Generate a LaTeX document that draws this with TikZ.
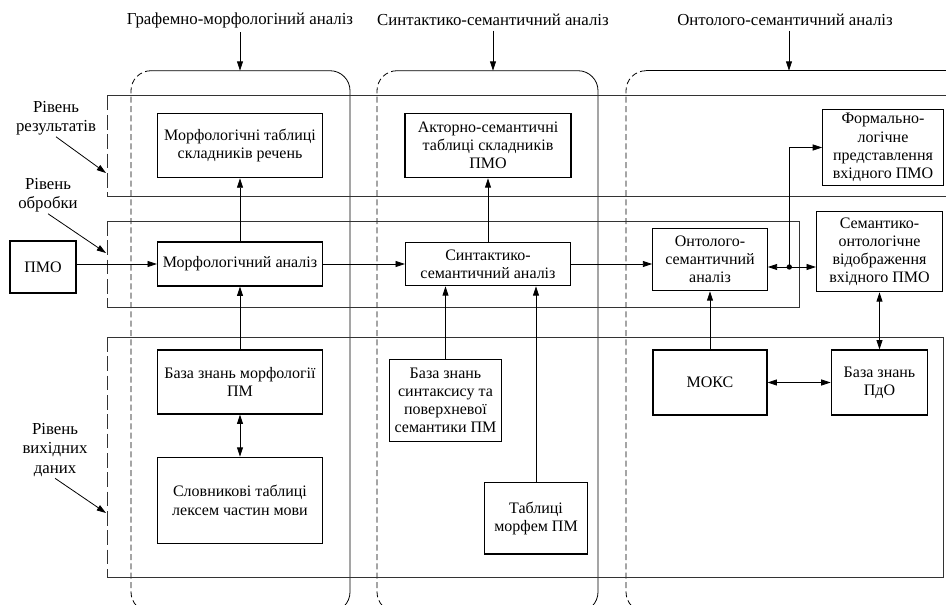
\documentclass[tikz,border=0pt]{standalone}
\usepackage{fontspec}
\setmainfont{Liberation Serif}
\usetikzlibrary{arrows.meta}

\begin{document}
\begin{tikzpicture}[x=0.75pt,y=-0.75pt,>={Triangle[length=7pt,width=4.5pt]},
  line width=0.6pt,font=\rmfamily\fontsize{12}{13.6}\selectfont,
  block/.style={draw,line width=0.9pt,align=center,inner sep=1pt},
  title/.style={font=\rmfamily\fontsize{12.6}{14}\selectfont},
  level label/.style={align=center,inner sep=1pt,font=\rmfamily\fontsize{12.6}{14.5}\selectfont},
  level/.style={draw=black!80,line width=0.7pt},
  column/.style={line width=0.6pt,rounded corners=15pt},
  column side/.style={column,dash pattern=on 4.5pt off 2.5pt},
  level side/.style={level,dash pattern=on 11pt off 3.5pt}]
  \path[use as bounding box] (0,0) rectangle (946,604);
  \clip (0,0) rectangle (946,604);

  % columns
  \draw[column side] (151,70.7) -- (131,70.7) -- (131,612) -- (151,612);
  \draw[column] (151,70.7) -- (350,70.7) -- (350,612) -- (330,612);
  \draw[column side] (397,70.7) -- (377,70.7) -- (377,612) -- (397,612);
  \draw[column] (397,70.7) -- (598,70.7) -- (598,612) -- (578,612);
  \draw[column side] (646,70.7) -- (626,70.7) -- (626,612) -- (646,612);
  \draw[column] (646,70.7) -- (990,70.7);
  \coordinate (top1) at (240,70.7);
  \coordinate (top2) at (493,70.7);
  \coordinate (top3) at (789,70.7);

  % levels
  \draw[level side] (107,95.7) -- (107,196);
  \draw[level] (107,95.7) -- (990,95.7) (107,196) -- (990,196);
  \draw[level side] (107,221) -- (107,307);
  \draw[level] (107,221) -- (799,221) -- (799,307) -- (107,307);
  \draw[level side] (107,337) -- (107,577);
  \draw[level] (107,337) -- (943,337) -- (943,577) -- (107,577);
  \coordinate (lvl1) at (106,173);
  \coordinate (lvl2) at (106,253);
  \coordinate (lvl3) at (106,513);

  \node[title] (ttl1) at (240,20) {Графемно-морфологіний аналіз};
  \node[title] (ttl2) at (493,20) {Синтактико-семантичний аналіз};
  \node[title] (ttl3) at (785,20) {Онтолого-семантичний аналіз};

  \node[level label] (lr) at (56,118) {Рівень\\результатів};
  \node[level label] (lp) at (48,195) {Рівень\\обробки};
  \node[level label] (ls) at (55,450) {Рівень\\вихідних\\даних};

  \node[block,minimum width=49.5pt,minimum height=39pt] (pmo) at (43,267) {ПМО};

  \node[block,minimum width=123.75pt,minimum height=48.4pt] (mT) at (240,145.5) {Морфологічні таблиці\\складників речень};
  \node[block,minimum width=123.75pt,minimum height=33pt] (mA) at (240,264) {Морфологічний аналіз};
  \node[block,minimum width=123.75pt,minimum height=48pt] (mKB) at (240,382) {База знань морфології\\ПМ};
  \node[block,minimum width=123.75pt,minimum height=64.5pt] (mDict) at (240,500.3) {Словникові таблиці\\лексем частин мови};

  \node[block,minimum width=124.5pt,minimum height=48.3pt] (sT) at (488,145.5) {Акторно-семантичні\\таблиці складників\\ПМО};
  \node[block,minimum width=123.75pt,minimum height=32.5pt] (sA) at (488,264) {Синтактико-\\семантичний аналіз};
  \node[block,minimum width=84.3pt,minimum height=61.8pt] (sKB) at (445.5,400.5) {База знань\\синтаксису та\\поверхневої\\семантики ПМ};
  \node[block,minimum width=77.25pt,minimum height=53.5pt] (sMorph) at (536,518.3) {Таблиці\\морфем ПМ};

  \node[block,minimum width=85.8pt,minimum height=46.8pt] (oA) at (710,259.5) {Онтолого-\\семантичний\\аналіз};
  \node[block,minimum width=94.5pt,minimum height=60pt] (soD) at (879.5,251.7) {Семантико-\\онтологічне\\відображення\\вхідного ПМО};
  \node[block,minimum width=90.5pt,minimum height=57.3pt] (fL) at (883,147.5) {Формально-\\логічне\\представлення\\вхідного ПМО};
  \node[block,minimum width=85.5pt,minimum height=48.75pt] (moks) at (710,382.5) {МОКС};
  \node[block,minimum width=72.5pt,minimum height=48.75pt] (kbD) at (879.5,382.5) {База знань\\ПдО};
  \coordinate (jn) at (789.3,267);

  \path[->]
    (ttl1) edge (top1)
    (ttl2) edge (top2)
    (ttl3.south -| top3) edge (top3)
    (lr.south) edge (lvl1)
    (lp.south) edge (lvl2)
    (ls.south) edge (lvl3)
    (pmo.east |- mA.west) edge (mA.west)
    (mA.east) edge (sA.west)
    (sA.east) edge (sA.east -| oA.west)
    (mA.north) edge (mT.south)
    (mKB.north) edge (mA.south)
    (sA.north) edge (sT.south)
    (sKB.north) edge (sKB.north |- sA.south)
    (sMorph.north) edge (sMorph.north |- sA.south)
    (moks.north) edge (oA.south)
    (jn) edge (oA.east |- jn)
    (jn) edge (jn -| soD.west);
  \path[<->]
    (mKB.south) edge (mDict.north)
    (moks.east) edge (kbD.west)
    (soD.south) edge (kbD.north);
  \draw[->] (jn) |- (fL.west);
  \fill (jn) circle (2pt);
\end{tikzpicture}
\end{document}
